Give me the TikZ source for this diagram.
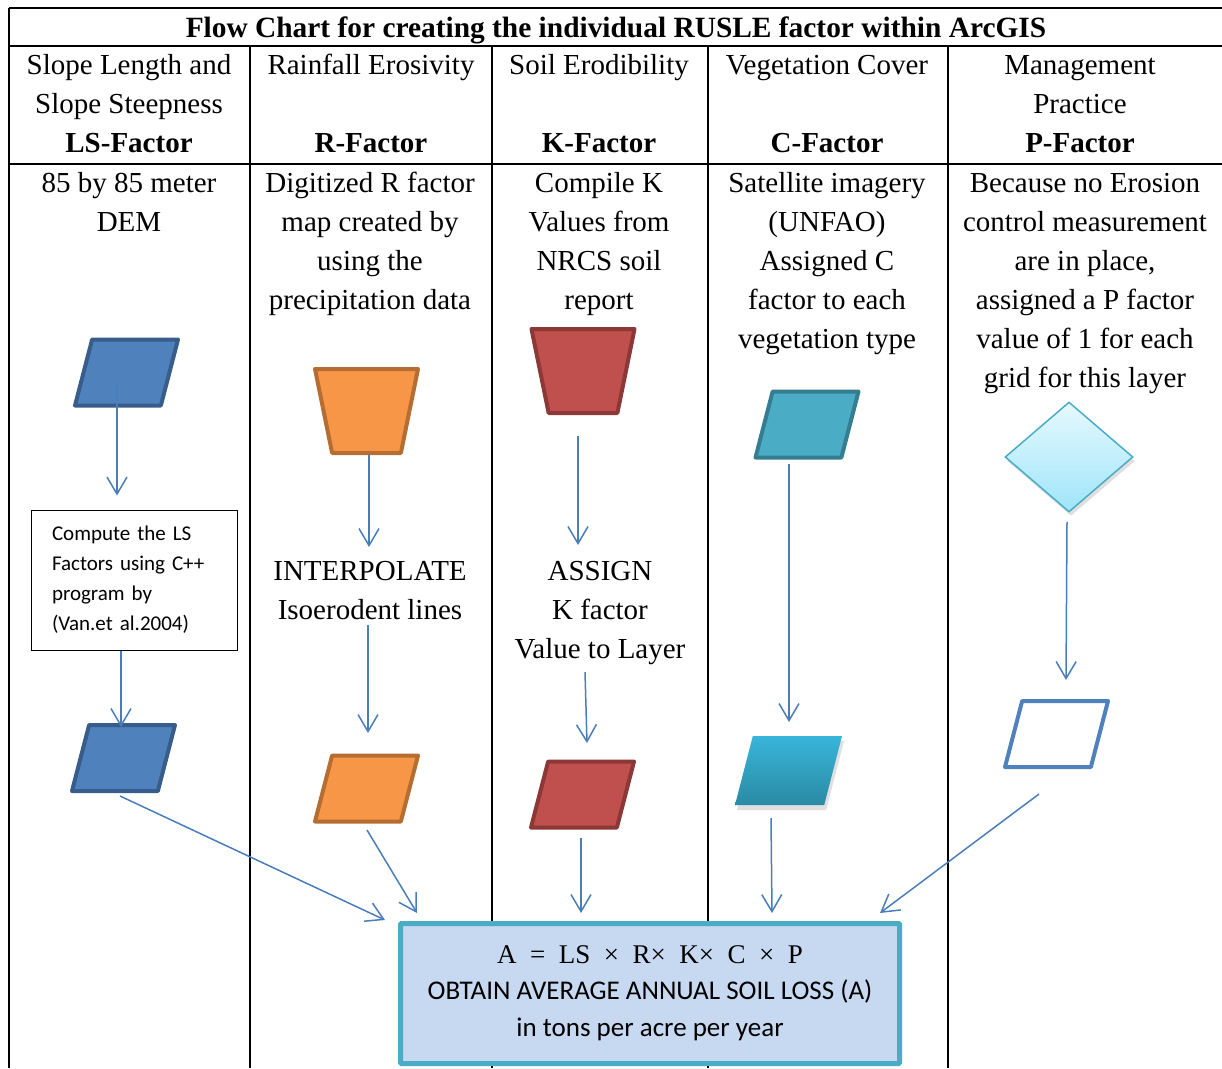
\documentclass[tikz,border=0pt]{standalone}
\usepackage{fontspec}
\setmainfont{Liberation Serif}
\newfontfamily\calibri{Carlito}
\usepackage{tikz}
\usetikzlibrary{arrows.meta,shapes.geometric,calc,shadows}

\definecolor{lsblue}{HTML}{4F81BD}
\definecolor{lsline}{HTML}{385D8A}
\definecolor{rorange}{HTML}{F79646}
\definecolor{rline}{HTML}{B66D31}
\definecolor{kred}{HTML}{C0504D}
\definecolor{kline}{HTML}{8C3836}
\definecolor{cteal}{HTML}{4BACC6}
\definecolor{cline}{HTML}{357D91}
\definecolor{ctop}{HTML}{38B6D9}
\definecolor{cbottom}{HTML}{2A8AA4}
\definecolor{ptop}{HTML}{E6F9FE}
\definecolor{pbottom}{HTML}{9FE5FA}
\definecolor{flow}{HTML}{4A7EBB}
\definecolor{lossfill}{HTML}{C6D9F1}

\begin{document}
\begin{tikzpicture}[x=1pt,y=-1pt,
  >={Straight Barb[length=17pt,width=20pt]},
  cell/.style={align=center,font=\fontsize{29}{39}\selectfont,inner sep=0pt,
    execute at begin node=\strut,execute at end node=\strut},
  para/.style={trapezium,trapezium left angle=76,trapezium right angle=104,
    trapezium stretches=true,minimum width=103pt,minimum height=66pt,
    inner sep=2pt,line width=4pt,line join=round},
  bucket/.style={trapezium,trapezium left angle=76,trapezium right angle=76,
    shape border rotate=180,trapezium stretches=true,minimum width=103pt,
    minimum height=84pt,inner sep=2pt,line width=4pt,line join=round},
  flowline/.style={->,flow,line width=1.5pt}]
  \useasboundingbox (0,0) rectangle (1222,1068);

  % table frame
  \draw[line width=1.5pt] (9,8) -- (1222,8) (9,46) -- (1222,46) (9,164) -- (1222,164);
  \draw[line width=1.5pt] (9,8) -- (9,1068);
  \foreach \x in {250,492,708,948}
    \draw[line width=1.5pt] (\x,46) -- (\x,1068);

  \node[cell,font=\fontsize{29.4}{39}\selectfont\bfseries] (title) at (616,30) {Flow Chart for creating the individual RUSLE factor within ArcGIS};

  % column heads
  \node[cell] (lsHead) at (129,109.5) {Slope Length and\\Slope Steepness\\\textbf{LS-Factor}};
  \node[cell] (rHead) at (371,109.5) {Rainfall Erosivity\\~\\\textbf{R-Factor}};
  \node[cell] (kHead) at (599,109.5) {Soil Erodibility\\~\\\textbf{K-Factor}};
  \node[cell] (cHead) at (827,109.5) {Vegetation Cover\\~\\\textbf{C-Factor}};
  \node[cell] (pHead) at (1080,109.5) {Management\\Practice\\\textbf{P-Factor}};

  % inputs
  \node[cell] (lsText) at (129,208) {85 by 85 meter\\DEM};
  \node[cell] (rText) at (370,247) {Digitized R factor\\map created by\\using the\\precipitation data};
  \node[cell] (kText) at (599,247) {Compile K\\Values from\\NRCS soil\\report};
  \node[cell] (cText) at (827,266.5) {Satellite imagery\\(UNFAO)\\Assigned C\\factor to each\\vegetation type};
  \node[cell] (pText) at (1085,286) {Because no Erosion\\control measurement\\are in place,\\assigned a P factor\\value of 1 for each\\grid for this layer};

  \node[cell] (rStep) at (370,596) {INTERPOLATE\\Isoerodent lines};
  \node[cell] (kStep) at (600,615.5) {ASSIGN\\K factor\\Value to Layer};
  \node[draw,line width=1pt,minimum width=206pt,minimum height=140pt,text width=164pt,inner xsep=21pt,align=left,font=\calibri\fontsize{21}{30}\selectfont] (lsBox) at (134,580) {Compute the LS\\Factors using C++\\program by\\(Van.et al.2004)};

  % symbols
  \node[para,draw=lsline,fill=lsblue] (lsIn) at (126.5,372.5) {};
  \node[para,draw=lsline,fill=lsblue] (lsOut) at (123.5,758) {};
  \node[bucket,draw=rline,fill=rorange] (rIn) at (366.5,411) {};
  \node[para,draw=rline,fill=rorange] (rOut) at (366.5,788.5) {};
  \node[bucket,draw=kline,fill=kred] (kIn) at (583,371) {};
  \node[para,draw=kline,fill=kred] (kOut) at (582.5,794.5) {};
  \node[para,draw=cline,fill=cteal] (cIn) at (807,424.5) {};
  \node[para,line width=0pt,minimum width=107pt,minimum height=69pt,top color=ctop,bottom color=cbottom,
    drop shadow={shadow xshift=2pt,shadow yshift=-5pt,opacity=.25}] (cOut) at (788.5,770.5) {};
  \node[diamond,draw=cteal,line width=1.5pt,minimum width=128pt,minimum height=110pt,inner sep=2pt,
    top color=ptop,bottom color=pbottom,drop shadow={shadow xshift=2pt,shadow yshift=-4pt,opacity=.25}] (pIn) at (1069,457) {};
  \node[para,draw=lsblue,fill=white] (pOut) at (1056.5,734) {};

  \node[draw=cteal,fill=lossfill,line width=5pt,rounded corners=1pt,minimum width=499pt,minimum height=140pt,align=center,
    font=\calibri\fontsize{27}{37}\selectfont] (soilLoss) at (650,993.5)
    {{\rmfamily A\ \ =\ \ LS\ \ ×\ \ R×\ \ K×\ \ C\ \ ×\ \ P}\\[-1pt]OBTAIN AVERAGE ANNUAL SOIL LOSS (A)\\in tons per acre per year};

  % connectors
  \draw[flowline] ($(lsIn.center)+(-9.5,12.5)$) -- ($(lsBox.north)+(-17,-14)$);
  \draw[flowline] ($(lsBox.south)+(-13,0)$) -- ($(lsOut.north)+(-2.5,4)$);
  \draw[flowline] ($(lsOut.south)+(-3.5,3)$) -- ($(soilLoss.north west)+(-13,-1)$);
  \draw[flowline] ($(rIn.south)+(2.5,0)$) -- ($(rStep.center)+(-1,-49)$);
  \draw[flowline] ($(rStep.center)+(-2,29)$) -- ($(rOut.north)+(1.5,-20.5)$);
  \draw[flowline] ($(rOut.south)+(0.5,6.5)$) -- ($(soilLoss.north west)+(19,-8)$);
  \draw[flowline] ($(kIn.south)+(-5,21)$) -- ($(kStep.center)+(-22,-70.5)$);
  \draw[flowline] ($(kStep.center)+(-15,56.5)$) -- ($(kOut.north)+(4.5,-16.5)$);
  \draw[flowline] ($(kOut.south)+(-1.5,8.5)$) -- ($(soilLoss.north)+(-69,-8)$);
  \draw[flowline] ($(cIn.south)+(-18,4.5)$) -- ($(cOut.north)+(0.5,-14)$);
  \draw[flowline] ($(cOut.south)+(-17.5,13)$) -- ($(soilLoss.north)+(122,-8)$);
  \draw[flowline] ($(pIn.south)+(-2,9)$) -- ($(pOut.north)+(9.5,-19)$);
  \draw[flowline] ($(pOut.south)+(-17.5,25)$) -- ($(soilLoss.north east)+(-22,-8)$);
\end{tikzpicture}
\end{document}
